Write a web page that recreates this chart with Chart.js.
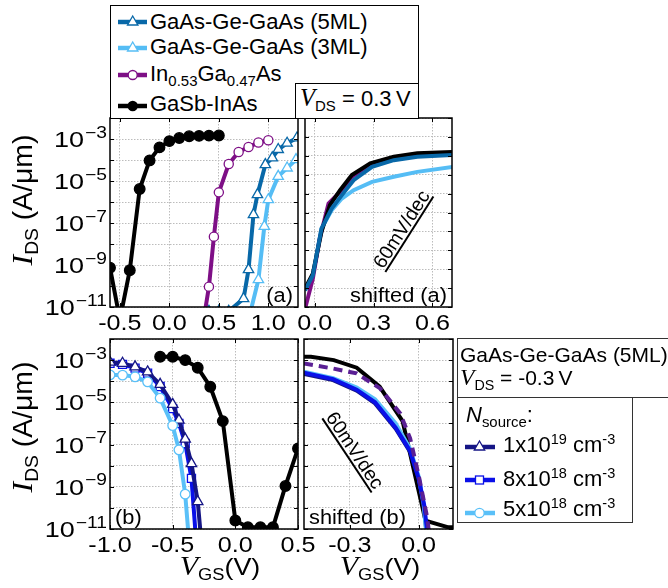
<!DOCTYPE html>
<html>
<head>
<meta charset="utf-8">
<script src="https://cdn.jsdelivr.net/npm/chart.js@4.4.1/dist/chart.umd.min.js"></script>
<style>
body{margin:0;background:#fff;font-family:"Liberation Sans",Arial,sans-serif;}
#wrap{position:relative;width:668px;height:588px;overflow:hidden;background:#fff}
canvas{position:absolute;left:0;top:0}
.t{position:absolute;white-space:nowrap;line-height:22px;font-size:22px;color:#000}
.t sub{font-size:.68em;position:relative;top:.3em;vertical-align:baseline;line-height:0}
.t sup{font-size:.66em;position:relative;top:-.55em;vertical-align:baseline;line-height:0}
i.s{font-family:"Liberation Serif","Times New Roman",serif;font-size:1.12em}
.box{position:absolute;border:1.3px solid #000;background:#fff;box-sizing:border-box}
.box2{position:absolute;border:1.3px solid #333;background:#fff;box-sizing:border-box}
svg{position:absolute;overflow:visible}
.yl{position:absolute;font-size:27px;line-height:27px;white-space:nowrap;transform:translate(-50%,-50%) rotate(-90deg) scaleX(1.05)}
.xl{position:absolute;font-size:24px;line-height:24px;white-space:nowrap;transform:translateX(-50%) scaleX(1.12)}
.yl sub,.xl sub{font-size:.68em;position:relative;top:.3em;vertical-align:baseline;line-height:0}
</style>
</head>
<body>
<div id="wrap">
<canvas id="ca" width="668" height="588"></canvas>
<canvas id="cas" width="668" height="588"></canvas>
<canvas id="cb" width="668" height="588"></canvas>
<canvas id="cbs" width="668" height="588"></canvas>

<!-- legend, top -->
<div class="box" style="left:110px;top:5px;width:309px;height:114px"></div>
<div class="box" style="left:295px;top:83px;width:124px;height:36px"></div>
<svg style="left:116px;top:13.7px" width="34" height="16"><line x1="2" y1="8" x2="31" y2="8" stroke="#0868a8" stroke-width="4.5"/><polygon points="16.7,2 21.9,11 11.5,11" fill="#fff" stroke="#0868a8" stroke-width="1.3"/></svg>
<svg style="left:116px;top:40.3px" width="34" height="16"><line x1="2" y1="8" x2="31" y2="8" stroke="#55bdf5" stroke-width="4.5"/><polygon points="16.7,2 21.9,11 11.5,11" fill="#fff" stroke="#55bdf5" stroke-width="1.3"/></svg>
<svg style="left:116px;top:67px" width="34" height="16"><line x1="2" y1="8" x2="31" y2="8" stroke="#7e0f86" stroke-width="4.5"/><circle cx="16.7" cy="8" r="4.5" fill="#fff" stroke="#7e0f86" stroke-width="1.3"/></svg>
<svg style="left:116px;top:98px" width="34" height="16"><line x1="2" y1="8" x2="31" y2="8" stroke="#000" stroke-width="4.5"/><circle cx="16.7" cy="8" r="5.2" fill="#000"/></svg>
<div class="t" style="left:150px;top:10.7px">GaAs-Ge-GaAs (5ML)</div>
<div class="t" style="left:150px;top:36.4px">GaAs-Ge-GaAs (3ML)</div>
<div class="t" style="left:150px;top:63.1px">In<sub>0.53</sub>Ga<sub>0.47</sub>As</div>
<div class="t" style="left:150px;top:93.1px">GaSb-InAs</div>
<div class="t" style="left:300px;top:87.4px"><i class="s">V</i><sub>DS</sub> = 0.3&#8201;V</div>

<!-- legend, bottom -->
<div class="box2" style="left:457px;top:338px;width:220px;height:60px"></div>
<div class="box2" style="left:457px;top:397px;width:176px;height:126px"></div>
<div class="t" style="left:460px;top:344.4px;font-size:21px">GaAs-Ge-GaAs (5ML)</div>
<div class="t" style="left:460px;top:366.4px;font-size:21px"><i class="s">V</i><sub>DS</sub> = -0.3&#8201;V</div>
<div class="t" style="left:466px;top:404.4px"><i>N</i><sub>source</sub>:</div>
<svg style="left:463px;top:438.7px" width="34" height="16"><line x1="2" y1="8" x2="32" y2="8" stroke="#151585" stroke-width="4.5"/><polygon points="16.5,2 21.7,11 11.3,11" fill="#fff" stroke="#151585" stroke-width="1.3"/></svg>
<svg style="left:463px;top:472px" width="34" height="16"><line x1="2" y1="8" x2="32" y2="8" stroke="#0a10e8" stroke-width="4.5"/><rect x="12.5" y="4" width="8" height="8" fill="#fff" stroke="#0a10e8" stroke-width="1.3"/></svg>
<svg style="left:463px;top:504.7px" width="34" height="16"><line x1="2" y1="8" x2="32" y2="8" stroke="#5ac0f8" stroke-width="4.5"/><circle cx="16.5" cy="8" r="4.7" fill="#fff" stroke="#5ac0f8" stroke-width="1.3"/></svg>
<div class="t" style="left:503px;top:434.4px">1x10<sup>19</sup> cm<sup>-3</sup></div>
<div class="t" style="left:503px;top:468px">8x10<sup>18</sup> cm<sup>-3</sup></div>
<div class="t" style="left:503px;top:498px">5x10<sup>18</sup> cm<sup>-3</sup></div>

<!-- axis titles -->
<div class="yl" style="left:23px;top:200px"><i class="s">I</i><sub>DS</sub> (A/μm)</div>
<div class="yl" style="left:23px;top:427px"><i class="s">I</i><sub>DS</sub> (A/μm)</div>
<div class="xl" style="left:220px;top:554px"><i class="s">V</i><sub>GS</sub>(V)</div>
<div class="xl" style="left:380px;top:554px"><i class="s">V</i><sub>GS</sub>(V)</div>
</div>

<script>
// ---- panel (a): V_DS = 0.3 V, log10(I) ----
const aXTicks = [-0.5, 0.0, 0.5, 1.0];
const aYLabels = [-3, -5, -7, -9, -11];
const aGaSbV   = [-0.6, -0.5, -0.4, -0.3, -0.2, -0.1, 0.0, 0.1, 0.2, 0.3, 0.4, 0.5];
const aGaSbLog = [-9.13, -11.6, -9.25, -5.38, -4.02, -3.4, -3.1, -2.95, -2.87, -2.85, -2.84, -2.83];
const aInGaAsV   = [0.35, 0.4, 0.45, 0.5, 0.6, 0.7, 0.8, 0.9, 1.0];
const aInGaAsLog = [-11.5, -10.03, -7.65, -5.54, -4.19, -3.62, -3.38, -3.17, -3.06];
const a5mlV   = [0.4, 0.5, 0.6, 0.75, 0.8, 0.85, 0.89, 0.97, 1.04, 1.1, 1.19, 1.29];
const a5mlLog = [-11.2, -11.2, -11.2, -10.6, -9.22, -6.6, -5.65, -4.22, -3.9, -3.5, -3.2, -2.95];
const a3mlV   = [0.8, 0.9, 0.96, 1.0, 1.1, 1.19, 1.28];
const a3mlLog = [-11.6, -9.7, -7.16, -5.89, -4.78, -4.38, -3.98];

// ---- shifted (a) ----
const asXTicks = [0.0, 0.3, 0.6];
const asGaSbV   = [-0.05, -0.01, 0.034, 0.077, 0.129, 0.189, 0.283, 0.403, 0.523, 0.706];
const asGaSbLog = [-11.03, -10.23, -8.03, -6.61, -5.82, -5.02, -4.40, -4.05, -3.87, -3.79];
const asInGaAsV   = [-0.05, -0.01, 0.025, 0.07, 0.129, 0.189, 0.283, 0.403, 0.523, 0.706];
const asInGaAsLog = [-12.1, -10.5, -8.38, -6.52, -5.91, -5.11, -4.49, -4.14, -4.0, -3.93];
const as5mlV   = [-0.05, -0.01, 0.034, 0.086, 0.138, 0.198, 0.292, 0.403, 0.523, 0.706];
const as5mlLog = [-11.12, -10.32, -7.85, -6.79, -6.08, -5.29, -4.58, -4.23, -4.05, -3.96];
const as3mlV   = [-0.05, -0.01, 0.034, 0.086, 0.138, 0.198, 0.292, 0.403, 0.523, 0.706];
const as3mlLog = [-11.12, -10.32, -7.85, -6.88, -6.26, -5.82, -5.38, -5.11, -4.85, -4.58];
const asSlopeV   = [0.36, 0.605];
const asSlopeLog = [-10.15, -6.15];

// ---- panel (b): V_DS = -0.3 V ----
const bXTicks = [-1.0, -0.5, 0.0, 0.5];
const bGaSbV   = [-0.6, -0.5, -0.4, -0.3, -0.2, -0.1, 0.0, 0.1, 0.2, 0.3, 0.4, 0.5];
const bGaSbLog = [-2.84, -2.84, -3.0, -3.36, -4.26, -5.89, -10.6, -10.92, -10.92, -10.92, -8.96, -7.19];
const bN19V   = [-1.0, -0.9, -0.8, -0.7, -0.6, -0.5, -0.45, -0.4, -0.35, -0.3, -0.25];
const bN19Log = [-3.1, -3.15, -3.32, -3.56, -4.15, -5.1, -5.84, -6.74, -7.9, -9.7, -13];
const bN8V    = [-1.0, -0.9, -0.8, -0.7, -0.6, -0.5, -0.45, -0.4, -0.35, -0.3];
const bN8Log  = [-3.15, -3.2, -3.38, -3.62, -4.25, -5.3, -6.0, -6.95, -8.6, -12.6];
const bN5V    = [-1.0, -0.9, -0.8, -0.7, -0.6, -0.5, -0.45, -0.4, -0.35];
const bN5Log  = [-3.7, -3.71, -3.79, -4.03, -4.8, -6.1, -7.25, -9.35, -13];

// ---- shifted (b) ----
const bsXTicks = [-0.3, 0.0];
const bsGaSbV   = [-0.57, -0.47, -0.37, -0.27, -0.17, -0.07, 0.03, 0.13, 0.23];
const bsGaSbLog = [-2.84, -2.84, -3.0, -3.36, -4.26, -5.89, -10.6, -10.92, -10.92];
const bsInGaAsV   = [-0.5, -0.373, -0.27, -0.168, -0.08, -0.037, 0.0, 0.037, 0.055];
const bsInGaAsLog = [-3.16, -3.4, -3.63, -4.34, -5.53, -6.71, -8.45, -10.43, -12];
const bsN19V   = [-0.5, -0.373, -0.27, -0.19, -0.1, -0.037, 0.0, 0.022, 0.035];
const bsN19Log = [-3.65, -3.95, -4.45, -5.05, -6.25, -7.35, -8.6, -9.9, -11.2];
const bsN8V    = [-0.5, -0.373, -0.27, -0.19, -0.1, -0.037, 0.0, 0.025, 0.038];
const bsN8Log  = [-3.6, -3.9, -4.4, -5.0, -6.2, -7.3, -8.6, -9.9, -11.2];
const bsN5V    = [-0.5, -0.373, -0.27, -0.19, -0.1, -0.037, 0.0, 0.022, 0.033];
const bsN5Log  = [-3.55, -3.85, -4.3, -4.85, -6.0, -7.2, -8.5, -9.8, -11.2];
const bsSlopeV   = [-0.42, -0.205];
const bsSlopeLog = [-5.76, -9.27];

const C = {
  black: '#000000', ml5: '#0868a8', ml3: '#55bdf5', purple: '#7e0f86', purple2: '#5a1f94',
  n19: '#151585', n8: '#0a10e8', n5: '#5ac0f8', grid: '#bcbcbc'
};
const FONT = '"Liberation Sans", Arial, sans-serif';

function pts(xs, ls) { return xs.map((v, i) => ({ x: v, y: Math.pow(10, ls[i]) })); }
function range(a, b) { const r = []; for (let e = a; e <= b; e++) r.push(e); return r; }

function line(label, xs, ls, color, extra) {
  return Object.assign({
    label: label, data: pts(xs, ls), borderColor: color, borderWidth: 4,
    pointRadius: 0, pointHoverRadius: 0, clip: 0, tension: 0
  }, extra || {});
}
function mk(style, color, r, fill) {
  return { pointStyle: style, pointRadius: r, pointBackgroundColor: fill || '#fff',
           pointBorderColor: color, pointBorderWidth: 1.3 };
}

function say(ctx, s, x, y, size, align, sx) {
  ctx.save();
  ctx.font = size + 'px ' + FONT;
  ctx.translate(x, y); ctx.scale(sx, 1);
  ctx.textAlign = align; ctx.textBaseline = 'alphabetic';
  ctx.fillStyle = '#000';
  ctx.fillText(s, 0, 0);
  ctx.restore();
}

const decoPlugin = {
  id: 'deco',
  afterDatasetsDraw(chart, args, o) {
    const ctx = chart.ctx, a = chart.chartArea, x = chart.scales.x, y = chart.scales.y;
    ctx.save();
    ctx.strokeStyle = '#000'; ctx.lineWidth = 1;
    ctx.beginPath();
    o.xt.forEach(v => {
      const px = Math.round(x.getPixelForValue(v)) + 0.5;
      ctx.moveTo(px, a.top); ctx.lineTo(px, a.top + 4);
      ctx.moveTo(px, a.bottom); ctx.lineTo(px, a.bottom - 4);
    });
    o.yt.forEach(e => {
      const py = Math.round(y.getPixelForValue(Math.pow(10, e))) + 0.5;
      ctx.moveTo(a.left, py); ctx.lineTo(a.left + 4, py);
      ctx.moveTo(a.right, py); ctx.lineTo(a.right - 4, py);
    });
    ctx.stroke();
    ctx.lineWidth = 1.5;
    ctx.strokeRect(a.left, a.top, a.right - a.left, a.bottom - a.top);

    // tick labels
    o.xt.forEach(v => say(ctx, v.toFixed(1), x.getPixelForValue(v), a.bottom + 23, 21.5, 'center', 1.17));
    (o.yl || []).forEach(e => {
      const py = y.getPixelForValue(Math.pow(10, e));
      const sup = '\u2212' + Math.abs(e);
      ctx.font = '16px ' + FONT;
      const w = ctx.measureText(sup).width * 1.2;
      say(ctx, sup, a.left - 3, py - 1.5, 16, 'right', 1.2);
      say(ctx, '10', a.left - 4 - w, py + 8, 22.5, 'right', 1.2);
    });

    // panel note
    if (o.note) {
      if (o.note.side === 'right') say(ctx, o.note.text, a.right - 5, a.bottom - 5.5, 20, 'right', 1.09);
      else say(ctx, o.note.text, a.left + 5, a.bottom - 5, 20, 'left', 1.09);
    }

    // slope label along the 60 mV/dec guide line
    if (o.slope) {
      const idx = chart.data.datasets.findIndex(d => d.label === 'slope');
      const p = chart.getDatasetMeta(idx).data;
      const x0 = p[0].x, y0 = p[0].y, x1 = p[1].x, y1 = p[1].y;
      const ang = Math.atan2(y1 - y0, x1 - x0);
      ctx.save();
      ctx.translate((x0 + x1) / 2, (y0 + y1) / 2);
      ctx.rotate(ang);
      say(ctx, '60mV/dec', 0, -3, 19.5, 'center', 1.0);
      ctx.restore();
    }
    ctx.restore();
  }
};

function panel(id, pad, xr, xt, yr, datasets, extra) {
  const yt = range(yr[0], yr[1]);
  return new Chart(document.getElementById(id), {
    type: 'line',
    data: { datasets: datasets },
    options: {
      responsive: false, animation: false, devicePixelRatio: 1,
      layout: { padding: pad },
      plugins: { legend: { display: false }, tooltip: { enabled: false }, deco: Object.assign({ xt: xt, yt: yt }, extra) },
      scales: {
        x: {
          type: 'linear', min: xr[0], max: xr[1],
          afterBuildTicks: s => { s.ticks = xt.map(v => ({ value: v })); },
          afterFit: s => { s.height = 0; },
          ticks: { display: false },
          grid: { color: C.grid, lineWidth: 1, drawTicks: false },
          border: { display: false, dash: [1.5, 1.5] }
        },
        y: {
          type: 'logarithmic', min: Math.pow(10, yr[0]), max: Math.pow(10, yr[1]),
          afterBuildTicks: s => { s.ticks = yt.map(e => ({ value: Math.pow(10, e) })); },
          afterFit: s => { s.width = 0; },
          ticks: { display: false },
          grid: { color: C.grid, lineWidth: 1, drawTicks: false },
          border: { display: false, dash: [1.5, 1.5] }
        }
      }
    },
    plugins: [decoPlugin]
  });
}

// (a)
panel('ca', { left: 110, top: 118, right: 370, bottom: 281 }, [-0.6, 1.3], aXTicks, [-11, -2], [
  line('GaAs-Ge-GaAs (5ML)', a5mlV, a5mlLog, C.ml5, mk('triangle', C.ml5, 6)),
  line('GaAs-Ge-GaAs (3ML)', a3mlV, a3mlLog, C.ml3, mk('triangle', C.ml3, 6)),
  line('In0.53Ga0.47As', aInGaAsV, aInGaAsLog, C.purple, mk('circle', C.purple, 4.6)),
  line('GaSb-InAs', aGaSbV, aGaSbLog, C.black, mk('circle', C.black, 5.3, '#000'))
], { yl: aYLabels, note: { text: '(a)', side: 'right' } });

// shifted (a)
panel('cas', { left: 305, top: 118, right: 216, bottom: 281 }, [-0.05, 0.7], asXTicks, [-12, -2], [
  line('slope', asSlopeV, asSlopeLog, C.black, { borderWidth: 2 }),
  line('GaAs-Ge-GaAs (5ML)', as5mlV, as5mlLog, C.ml5),
  line('GaSb-InAs', asGaSbV, asGaSbLog, C.black),
  line('In0.53Ga0.47As', asInGaAsV, asInGaAsLog, C.purple),
  line('GaAs-Ge-GaAs (3ML)', as3mlV, as3mlLog, C.ml3)
], { note: { text: 'shifted (a)', side: 'right' }, slope: true });

// (b)
panel('cb', { left: 110, top: 339, right: 370, bottom: 59 }, [-1.0, 0.5], bXTicks, [-11, -2], [
  line('5e18', bN5V, bN5Log, C.n5, mk('circle', C.n5, 4.8)),
  line('1e19', bN19V, bN19Log, C.n19, mk('triangle', C.n19, 6)),
  line('8e18', bN8V, bN8Log, C.n8, mk('rect', C.n8, 5.7)),
  line('GaSb-InAs', bGaSbV, bGaSbLog, C.black, mk('circle', C.black, 5.3, '#000'))
], { yl: aYLabels, note: { text: '(b)', side: 'left' } });

// shifted (b)
panel('cbs', { left: 304, top: 339, right: 215, bottom: 59 }, [-0.5, 0.15], bsXTicks, [-11, -2], [
  line('slope', bsSlopeV, bsSlopeLog, C.black, { borderWidth: 2 }),
  line('In0.53Ga0.47As', bsInGaAsV, bsInGaAsLog, C.purple2, { borderDash: [9, 6] }),
  line('8e18', bsN8V, bsN8Log, C.n8),
  line('5e18', bsN5V, bsN5Log, C.n5),
  line('1e19', bsN19V, bsN19Log, C.n19),
  line('GaSb-InAs', bsGaSbV, bsGaSbLog, C.black)
], { note: { text: 'shifted (b)', side: 'left' }, slope: true });
</script>
</body>
</html>
